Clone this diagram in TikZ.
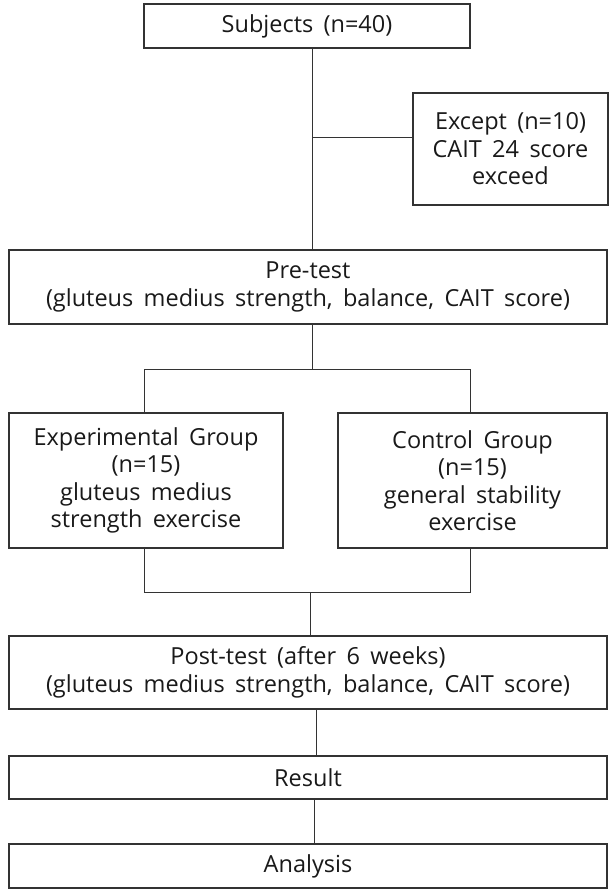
\documentclass[tikz,border=0pt]{standalone}
\usepackage{fontspec}
\setmainfont[WordSpace=1.7]{Open Sans}
\begin{document}
\begin{tikzpicture}[x=1pt,y=-1pt,
  box/.style={draw=black!80,line width=1.1pt,rectangle,align=center,inner sep=0pt,
    font=\fontsize{23.5}{27.5}\selectfont,text=black!90},
  conn/.style={draw=black!80,line width=0.9pt}]
\useasboundingbox (0,0) rectangle (610,889);
\node[box,minimum width=326pt,minimum height=44pt] (subj) at (307,26) {Subjects (n=40)};
\node[box,minimum width=195pt,minimum height=112pt] (exc) at (510.5,149) {Except (n=10)\\CAIT 24 score\\exceed};
\node[box,minimum width=598pt,minimum height=74pt] (pre) at (308,287) {Pre-test\\(gluteus medius strength, balance, CAIT score)};
\node[box,minimum width=274pt,minimum height=135pt] (exp) at (146,480.5) {Experimental Group\\(n=15)\\gluteus medius\\strength exercise};
\node[box,minimum width=269pt,minimum height=135pt] (ctl) at (472.5,480.5) {Control Group\\(n=15)\\general stability\\exercise};
\node[box,minimum width=598pt,minimum height=73pt] (post) at (308,672.5) {Post-test (after 6 weeks)\\(gluteus medius strength, balance, CAIT score)};
\node[box,minimum width=598pt,minimum height=43pt] (res) at (308,777.5) {Result};
\node[box,minimum width=598pt,minimum height=44pt] (ana) at (308,866) {Analysis};
% connectors
\coordinate (j1) at (312,137);
\coordinate (top) at (312,48);
\coordinate (pt) at (312,250);
\draw[conn] (top) -- (pt);
\draw[conn] (j1) -- (j1 -| exc.west);
\coordinate (pb) at (312,324);
\coordinate (bl) at (144,369);
\coordinate (br) at (470,369);
\draw[conn] (pb) -- (pb |- bl);
\draw[conn] (bl |- exp.north) -- (bl) -- (br) -- (br |- ctl.north);
\coordinate (cl) at (144,592);
\coordinate (cr) at (470,592);
\coordinate (cm) at (310,592);
\draw[conn] (cl |- exp.south) -- (cl) -- (cr) -- (cr |- ctl.south);
\draw[conn] (cm) -- (cm |- post.north);
\coordinate (m1) at (316,0);
\draw[conn] (m1 |- post.south) -- (m1 |- res.north);
\coordinate (m2) at (314,0);
\draw[conn] (m2 |- res.south) -- (m2 |- ana.north);
\end{tikzpicture}
\end{document}
